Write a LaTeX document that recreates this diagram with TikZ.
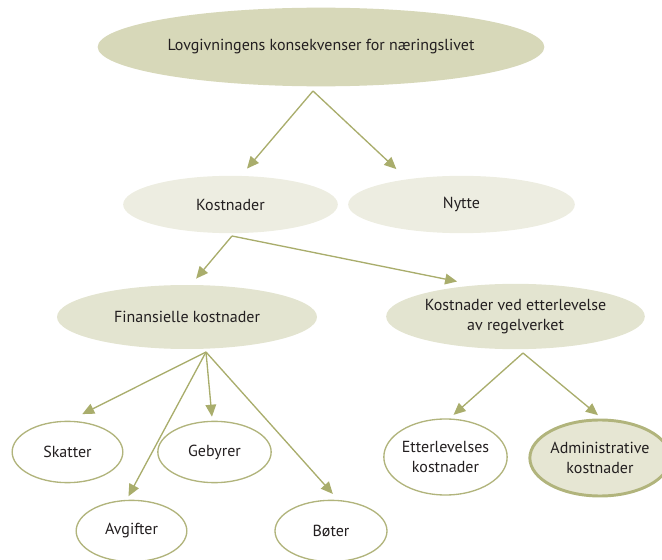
\documentclass[tikz,border=0pt]{standalone}
\usepackage{fontspec}
\setmainfont{PT Sans}
\usetikzlibrary{shapes.geometric,arrows.meta}

\definecolor{olivedark}{HTML}{A9AD6C}
\definecolor{oliveline}{HTML}{B1B47C}
\definecolor{fillroot}{HTML}{D7D8B9}
\definecolor{fillmid}{HTML}{EDEDE1}
\definecolor{filllow}{HTML}{E3E4D0}
\definecolor{filladmin}{HTML}{E6E6D3}
\definecolor{textdark}{HTML}{231F20}

\tikzset{
	bubble/.style={ellipse, inner sep=0pt, align=center, text=textdark, font=\fontsize{12}{15}\selectfont},
	rootbubble/.style={bubble, fill=fillroot, minimum width=335pt, minimum height=59pt},
	midbubble/.style={bubble, fill=fillmid},
	lowbubble/.style={bubble, fill=filllow},
	leaf/.style={bubble, draw=oliveline, line width=1pt, fill=white},
	arr/.style={draw=olivedark, line width=1pt, -{Triangle[length=9pt,width=8pt]}, shorten >=#1},
	arr/.default=4pt
}

\begin{document}
\begin{tikzpicture}[x=0.75pt, y=-0.75pt]

	\useasboundingbox (0,0) rectangle (662,560);

	% top level
	\node[rootbubble] (law) at (321,47) {Lovgivningens konsekvenser for næringslivet};
	\node[midbubble, minimum width=161pt, minimum height=43pt] (cost) at (230.5,204.5) {Kostnader};
	\node[midbubble, minimum width=170pt, minimum height=43pt] (gain) at (461.5,204.5) {Nytte};

	% cost types
	\node[lowbubble, minimum width=195pt, minimum height=48pt] (fin) at (187,317) {Finansielle kostnader};
	\node[lowbubble, minimum width=194pt, minimum height=49pt] (comply) at (515.5,316.5) {Kostnader ved etterlevelse\\av regelverket};

	% leaves
	\node[leaf, minimum width=83pt, minimum height=46pt] (tax) at (67.5,452) {Skatter};
	\node[leaf, minimum width=85pt, minimum height=46pt] (fee) at (214.5,452) {Gebyrer};
	\node[leaf, minimum width=83pt, minimum height=46pt] (duty) at (131.5,531) {Avgifter};
	\node[leaf, minimum width=84pt, minimum height=46pt] (fine) at (331,531) {Bøter};
	\node[leaf, minimum width=89pt, minimum height=57pt] (follow) at (445.5,457) {Etterlevelses\\kostnader};
	\node[leaf, fill=filladmin, line width=2.2pt, minimum width=91pt, minimum height=57pt] (admin) at (600,458) {Administrative\\kostnader};

	% where the arrows leave
	\coordinate (law-out) at (313,91);
	\coordinate (cost-out) at (232,236);
	\coordinate (fin-out) at (206,352);
	\coordinate (comply-out) at (523,353);

	\draw[arr=7pt] (law-out) -- (cost.70);
	\draw[arr=11pt] (law-out) -- (gain.155);
	\draw[arr=6pt] (cost-out) -- (fin.83);
	\draw[arr=14pt] (cost-out) -- (comply.142);
	\draw[arr=11pt] (fin-out) -- (tax.87);
	\draw[arr=3pt] (fin-out) -- (fee.94);
	\draw[arr=3pt] (fin-out) -- (duty.99);
	\draw[arr=6pt] (fin-out) -- (fine.77);
	\draw[arr=4pt] (comply-out) -- (follow.84);
	\draw[arr=4pt] (comply-out) -- (admin.87);

\end{tikzpicture}
\end{document}
